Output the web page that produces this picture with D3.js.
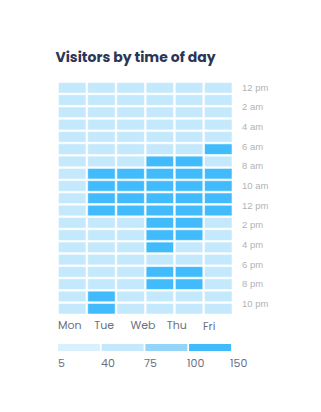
<!DOCTYPE html>
<html>
<head>
<meta charset="utf-8">
<script src="https://cdn.jsdelivr.net/npm/d3@7"></script>
<style>
  html, body { margin: 0; padding: 0; background: #fff; }
  svg { display: block; }
</style>
</head>
<body>
<div id="chart"></div>
<script>
// columns of the heatmap (last one has no label under it)
var days = ["Mon", "Tue", "Web", "Thu", "Fri", "Sat"];
var dayLabels = ["Mon", "Tue", "Web", "Thu", "Fri"];
var hourLabels = ["12 pm", "2 am", "4 am", "6 am", "8 am", "10 am",
                  "12 pm", "2 pm", "4 pm", "6 pm", "8 pm", "10 pm"];

// visitors per slot, one array per day, top to bottom
var mon = [55, 58, 52, 60, 57, 62, 60, 66, 64, 63, 61, 58, 56, 60, 59, 62, 57, 55, 54];
var tue = [56, 54, 57, 60, 58, 61, 64, 118, 125, 122, 116, 60, 62, 58, 57, 61, 63, 112, 108];
var web = [52, 55, 58, 56, 60, 63, 66, 120, 128, 130, 121, 62, 60, 59, 58, 63, 64, 57, 55];
var thu = [57, 53, 55, 59, 61, 64, 110, 126, 134, 131, 124, 115, 112, 106, 62, 118, 114, 60, 56];
var fri = [54, 56, 53, 58, 62, 65, 108, 124, 129, 127, 119, 111, 109, 64, 60, 116, 112, 58, 57];
var sat = [55, 57, 56, 58, 60, 104, 66, 117, 122, 120, 113, 61, 59, 57, 56, 60, 59, 56, 55];

var legendBreaks = [5, 40, 75, 100, 150];
var legendColors = ["#d9f1fd", "#c4e8fc", "#92d5f9", "#41bbfb"];

var series = [mon, tue, web, thu, fri, sat];
var rows = d3.range(mon.length);

var width = 321, height = 412;

var svg = d3.select("#chart").append("svg")
    .attr("width", width)
    .attr("height", height);

var x = d3.scaleBand()
    .domain(days)
    .range([58.5, 232])
    .paddingInner(0.06);

var y = d3.scaleBand()
    .domain(rows)
    .range([82.5, 314])
    .paddingInner(0.14);

var color = d3.scaleThreshold()
    .domain(legendBreaks.slice(1, 4))
    .range(legendColors);

svg.append("text")
    .attr("x", 55.5)
    .attr("y", 61.5)
    .attr("font-family", "Poppins, Inter, sans-serif")
    .attr("font-weight", 700)
    .attr("font-size", 14)
    .attr("fill", "#2b3556")
    .text("Visitors by time of day");

var cells = [];
series.forEach(function(vals, i) {
  vals.forEach(function(v, j) {
    cells.push({day: days[i], row: j, value: v});
  });
});

svg.append("g").selectAll("rect")
  .data(cells)
  .join("rect")
    .attr("x", function(d) { return x(d.day); })
    .attr("y", function(d) { return y(d.row); })
    .attr("width", x.bandwidth())
    .attr("height", y.bandwidth())
    .attr("fill", function(d) { return color(d.value); })
    .attr("stroke", "rgba(255,255,255,0.55)")
    .attr("stroke-width", 1);

// hour labels on the right
var yLab = d3.scalePoint()
    .domain(d3.range(hourLabels.length))
    .range([87.5, 303.5]);

svg.append("g").selectAll("text")
  .data(hourLabels)
  .join("text")
    .attr("x", 242)
    .attr("y", function(d, i) { return yLab(i); })
    .attr("dy", "0.35em")
    .attr("font-family", "Liberation Sans, Arial, sans-serif")
    .attr("font-size", 9.5)
    .attr("fill", "#b3b3b3")
    .text(function(d) { return d; });

// day labels along the bottom
var xLab = d3.scalePoint()
    .domain(dayLabels)
    .range([58, 203]);

svg.append("g").selectAll("text")
  .data(dayLabels)
  .join("text")
    .attr("x", function(d) { return xLab(d); })
    .attr("y", function(d) { return d == "Fri" ? 330 : 329; })
    .attr("font-family", "Poppins, Inter, sans-serif")
    .attr("font-size", 11)
    .attr("fill", "#6b6f82")
    .text(function(d) { return d; });

// legend
var lx = d3.scaleBand()
    .domain(d3.range(legendColors.length))
    .range([58, 231])
    .paddingInner(0.04);

svg.append("g").selectAll("rect")
  .data(legendColors)
  .join("rect")
    .attr("x", function(d, i) { return lx(i); })
    .attr("y", 344)
    .attr("width", lx.bandwidth())
    .attr("height", 7)
    .attr("fill", function(d) { return d; });

var lt = d3.scalePoint()
    .domain(legendBreaks)
    .range([58, 230]);

svg.append("g").selectAll("text")
  .data(legendBreaks)
  .join("text")
    .attr("x", function(d) { return lt(d); })
    .attr("y", 367)
    .attr("font-family", "Poppins, Inter, sans-serif")
    .attr("font-size", 11)
    .attr("fill", "#6b6f82")
    .text(function(d) { return d; });
</script>
</body>
</html>
